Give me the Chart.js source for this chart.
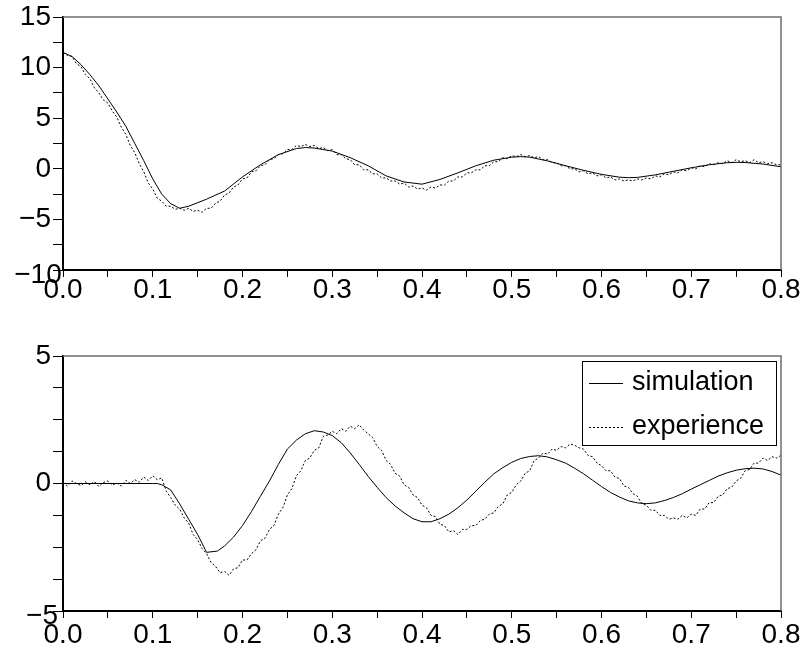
<!DOCTYPE html>
<html>
<head>
<meta charset="UTF-8">
<title>simulation / experience</title>
<script src="https://cdn.jsdelivr.net/npm/chart.js"></script>
<style>
  body { margin: 0; background: #fff; }
  #wrap { position: relative; width: 805px; height: 650px; }
  canvas { position: absolute; left: 0; }
  #top { top: 0; }
  #bot { top: 305px; }
</style>
</head>
<body>
<div id="wrap">
  <canvas id="top" width="805" height="305"></canvas>
  <canvas id="bot" width="805" height="345"></canvas>
</div>
<script>
// tick positions
var xTicks = [0, 0.05, 0.1, 0.15, 0.2, 0.25, 0.3, 0.35, 0.4, 0.45, 0.5, 0.55, 0.6, 0.65, 0.7, 0.75, 0.8];
var topYTicks = [-10, -7.5, -5, -2.5, 0, 2.5, 5, 7.5, 10, 12.5, 15];
var botYTicks = [-5, -3.75, -2.5, -1.25, 0, 1.25, 2.5, 3.75, 5];

// sampling times of the measured signal (every 5 ms)
var expT = [];
for (var i = 0; i <= 160; i++) expT.push(+(i * 0.005).toFixed(3));

// top plot - simulation
var topSimT = [0, 0.01, 0.02, 0.03, 0.04, 0.05, 0.06, 0.07, 0.08, 0.09, 0.10, 0.11, 0.12, 0.13, 0.14, 0.16, 0.18, 0.20, 0.22, 0.24, 0.26, 0.27, 0.28,
  0.30, 0.32, 0.34, 0.36, 0.38, 0.40, 0.42, 0.44, 0.46, 0.48, 0.50, 0.51, 0.52, 0.54, 0.56, 0.58, 0.60, 0.62, 0.63, 0.64, 0.66, 0.68, 0.70,
  0.72, 0.74, 0.75, 0.76, 0.78, 0.80];
var topSimY = [11.5, 11.1, 10.3, 9.3, 8.2, 6.9, 5.6, 4.2, 2.5, 0.8, -1.0, -2.5, -3.45, -3.9, -3.7, -3.0, -2.2, -0.8, 0.4, 1.4, 2.0, 2.1, 2.05,
  1.75, 1.1, 0.3, -0.7, -1.3, -1.52, -1.05, -0.4, 0.3, 0.85, 1.15, 1.2, 1.15, 0.78, 0.3, -0.15, -0.55, -0.83, -0.88, -0.85, -0.6, -0.25, 0.1,
  0.4, 0.6, 0.64, 0.62, 0.47, 0.2];

// top plot - experience
var topExpY = [
  11.5, 11.2, 11.1, 10.4, 10.1, 9.3, 8.9, 8.0, 7.5, 6.8,
  6.5, 5.7, 5.1, 4.1, 3.4, 2.3, 1.6, 0.5, -0.3, -1.4,
  -2.0, -2.9, -3.2, -3.7, -3.7, -4.0, -3.9, -4.1, -3.9, -4.2,
  -4.1, -4.3, -3.9, -3.9, -3.4, -3.2, -2.6, -2.4, -1.8, -1.6,
  -1.0, -0.9, -0.3, -0.2, 0.3, 0.4, 0.9, 1.0, 1.4, 1.5,
  1.9, 1.9, 2.3, 2.2, 2.4, 2.2, 2.3, 2.0, 2.1, 1.8,
  1.9, 1.4, 1.4, 1.0, 0.9, 0.4, 0.4, -0.1, -0.1, -0.5,
  -0.5, -0.9, -0.9, -1.2, -1.2, -1.5, -1.4, -1.8, -1.7, -2.0,
  -1.9, -2.1, -1.8, -1.9, -1.6, -1.6, -1.2, -1.2, -0.8, -0.8,
  -0.4, -0.4, -0.1, -0.1, 0.3, 0.3, 0.7, 0.7, 1.1, 1.0,
  1.3, 1.2, 1.4, 1.2, 1.3, 1.1, 1.2, 0.9, 0.9, 0.6,
  0.6, 0.3, 0.3, 0.0, 0.0, -0.3, -0.2, -0.5, -0.4, -0.7,
  -0.6, -0.9, -0.8, -1.1, -1.0, -1.2, -1.1, -1.2, -1.0, -1.1,
  -0.9, -1.0, -0.7, -0.8, -0.5, -0.6, -0.3, -0.4, -0.1, -0.2,
  0.1, 0.0, 0.3, 0.2, 0.5, 0.4, 0.6, 0.5, 0.8, 0.6,
  0.9, 0.7, 0.8, 0.6, 0.9, 0.6, 0.7, 0.5, 0.6, 0.4,
  0.4];

// bottom plot - simulation
var botSimT = [0, 0.10, 0.105, 0.11, 0.12, 0.13, 0.14, 0.15, 0.16, 0.172, 0.18, 0.19, 0.20, 0.21, 0.22, 0.23, 0.24, 0.25, 0.26, 0.27,
  0.28, 0.29, 0.30, 0.31, 0.32, 0.33, 0.34, 0.35, 0.36, 0.37, 0.38, 0.39, 0.40, 0.41, 0.42, 0.43, 0.44, 0.45, 0.46, 0.47, 0.48, 0.49,
  0.50, 0.51, 0.52, 0.53, 0.54, 0.55, 0.56, 0.57, 0.58, 0.59, 0.60, 0.61, 0.62, 0.63, 0.64, 0.65, 0.66, 0.67, 0.68, 0.69, 0.70, 0.71,
  0.72, 0.73, 0.74, 0.75, 0.76, 0.77, 0.78, 0.79, 0.80];
var botSimY = [0, 0, 0, -0.05, -0.25, -0.8, -1.4, -2.0, -2.7, -2.65, -2.45, -2.1, -1.65, -1.1, -0.5, 0.1, 0.75, 1.35, 1.7, 1.95,
  2.07, 2.02, 1.88, 1.6, 1.2, 0.75, 0.28, -0.15, -0.55, -0.88, -1.15, -1.38, -1.5, -1.5, -1.38, -1.2, -0.95, -0.65, -0.3, 0.05, 0.38, 0.62,
  0.83, 0.98, 1.06, 1.09, 1.04, 0.93, 0.8, 0.6, 0.38, 0.13, -0.12, -0.35, -0.53, -0.68, -0.76, -0.79, -0.76, -0.67, -0.55, -0.4, -0.22, -0.05,
  0.12, 0.29, 0.42, 0.52, 0.58, 0.6, 0.57, 0.47, 0.33];

// bottom plot - experience
var botExpY = [
  0.05, -0.1, 0.1, 0.0, -0.08, 0.06, -0.05, 0.08, -0.12, 0.04,
  0.1, -0.06, 0.02, -0.1, 0.12, 0.0, 0.15, 0.05, 0.25, 0.12,
  0.3, 0.15, 0.22, -0.3, -0.55, -0.85, -1.0, -1.35, -1.55, -2.0,
  -2.2, -2.55, -2.75, -3.1, -3.25, -3.5, -3.45, -3.6, -3.35, -3.3,
  -3.0, -3.0, -2.75, -2.6, -2.25, -2.15, -1.8, -1.65, -1.2, -0.95,
  -0.45, -0.2, 0.3, 0.5, 0.9, 1.0, 1.3, 1.4, 1.85, 1.9,
  2.05, 1.95, 2.15, 2.05, 2.25, 2.15, 2.3, 2.1, 1.95, 1.8,
  1.45, 1.3, 0.9, 0.75, 0.4, 0.3, -0.05, -0.15, -0.45, -0.55,
  -0.85, -0.95, -1.25, -1.3, -1.6, -1.65, -1.9, -1.85, -2.0, -1.8,
  -1.8, -1.65, -1.65, -1.45, -1.4, -1.2, -1.15, -0.9, -0.8, -0.45,
  -0.35, -0.05, 0.1, 0.4, 0.5, 0.9, 1.0, 1.2, 1.15, 1.35,
  1.3, 1.45, 1.4, 1.55, 1.5, 1.4, 1.35, 1.1, 1.05, 0.8,
  0.7, 0.5, 0.5, 0.25, 0.2, -0.1, -0.15, -0.4, -0.5, -0.8,
  -0.85, -1.05, -1.05, -1.25, -1.25, -1.4, -1.35, -1.4, -1.25, -1.35,
  -1.2, -1.25, -1.0, -1.0, -0.75, -0.75, -0.5, -0.45, -0.2, -0.15,
  0.1, 0.2, 0.5, 0.55, 0.8, 0.8, 1.0, 0.9, 1.05, 1.0,
  1.1];

var FONT = "'Liberation Sans', Arial, Helvetica, sans-serif";

function pairs(t, y) {
  return t.map(function (v, i) { return { x: v, y: y[i] }; });
}

function fmtY(v) {
  return String(v).replace('-', '\u2212');
}

// gray top/right frame, the lowest y label (sits in the corner) and optional legend box
var framePlugin = {
  id: 'frame',
  afterDraw: function (chart) {
    var a = chart.chartArea, ctx = chart.ctx;
    var opts = chart.options.plugins.frame || {};
    ctx.save();
    ctx.strokeStyle = '#6e6e6e';
    ctx.lineWidth = 1.5;
    ctx.beginPath();
    ctx.moveTo(a.left, a.top);
    ctx.lineTo(a.right, a.top);
    ctx.lineTo(a.right, a.bottom);
    ctx.stroke();

    // corner label of the y axis
    var ys = chart.scales.y;
    ctx.fillStyle = '#000';
    ctx.font = '28px ' + FONT;
    ctx.textAlign = 'center';
    ctx.textBaseline = 'middle';
    ctx.fillText(fmtY(ys.min), a.left - opts.cornerDx, ys.getPixelForValue(ys.min) + 5);

    if (opts.legend) {
      var bx = a.right - 199, by = a.top + 5, bw = 194, bh = 84;
      ctx.fillStyle = '#fff';
      ctx.fillRect(bx, by, bw, bh);
      ctx.strokeStyle = '#000';
      ctx.lineWidth = 1;
      ctx.strokeRect(bx + 0.5, by + 0.5, bw, bh);
      chart.data.datasets.forEach(function (ds, k) {
        var ly = by + 22 + k * 44;
        ctx.beginPath();
        ctx.strokeStyle = ds.borderColor;
        ctx.lineWidth = 1;
        ctx.setLineDash(ds.borderDash || []);
        ctx.moveTo(bx + 7, ly + 0.5);
        ctx.lineTo(bx + 41, ly + 0.5);
        ctx.stroke();
        ctx.setLineDash([]);
        ctx.fillStyle = '#000';
        ctx.font = '27px ' + FONT;
        ctx.textBaseline = 'middle';
        ctx.textAlign = 'left';
        ctx.fillText(ds.label, bx + 50, ly);
      });
    }
    ctx.restore();
  }
};

function makeChart(id, simData, expData, yMin, yMax, yTicks, padTop, xHeight, xPad, cornerDx, legend) {
  var ctx = document.getElementById(id).getContext('2d');
  return new Chart(ctx, {
    type: 'line',
    data: {
      datasets: [
        {
          label: 'simulation',
          data: simData,
          borderColor: '#000',
          borderWidth: 1,
          pointRadius: 0,
          tension: 0
        },
        {
          label: 'experience',
          data: expData,
          borderColor: '#000',
          borderWidth: 1,
          borderDash: [2, 2],
          pointRadius: 0,
          tension: 0
        }
      ]
    },
    options: {
      responsive: false,
      animation: false,
      events: [],
      layout: { padding: { top: padTop, right: 24, left: 0, bottom: 0 } },
      plugins: {
        legend: { display: false },
        tooltip: { enabled: false },
        frame: { legend: legend, cornerDx: cornerDx }
      },
      scales: {
        x: {
          type: 'linear',
          min: 0,
          max: 0.8,
          afterBuildTicks: function (s) { s.ticks = xTicks.map(function (v) { return { value: v }; }); },
          afterFit: function (s) { s.height = xHeight; s.paddingLeft = 0; s.paddingRight = 0; },
          grid: { drawOnChartArea: false, drawTicks: true, tickLength: 7, color: '#000', lineWidth: 1 },
          border: { color: '#000', width: 2 },
          ticks: {
            autoSkip: false,
            maxRotation: 0,
            padding: xPad,
            color: '#000',
            font: { family: FONT, size: 28 },
            callback: function (v) {
              return Math.abs(v * 10 - Math.round(v * 10)) < 1e-6 ? v.toFixed(1) : '';
            }
          }
        },
        y: {
          min: yMin,
          max: yMax,
          afterBuildTicks: function (s) { s.ticks = yTicks.map(function (v) { return { value: v }; }); },
          afterFit: function (s) { s.width = 63; s.paddingTop = 0; s.paddingBottom = 0; },
          grid: { drawOnChartArea: false, drawTicks: true, tickLength: 10, color: '#000', lineWidth: 1 },
          border: { color: '#000', width: 2 },
          ticks: {
            autoSkip: false,
            padding: 2,
            color: '#000',
            font: { family: FONT, size: 28 },
            callback: function (v) {
              // the lowest label is drawn by the frame plugin
              return (v % 5 === 0 && v !== yMin) ? fmtY(v) : '';
            }
          }
        }
      }
    },
    plugins: [framePlugin]
  });
}

makeChart('top', pairs(topSimT, topSimY), pairs(expT, topExpY), -10, 15, topYTicks, 17, 35, -4, 25, false);
makeChart('bot', pairs(botSimT, botSimY), pairs(expT, botExpY), -5, 5, botYTicks, 51, 39, 0, 21, true);
</script>
</body>
</html>
